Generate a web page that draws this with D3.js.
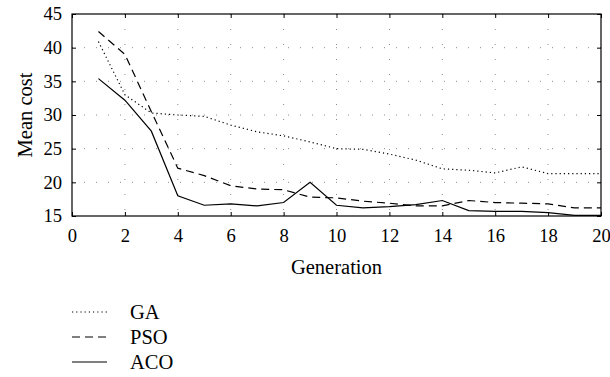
<!DOCTYPE html>
<html>
<head>
<meta charset="utf-8">
<script src="https://cdn.jsdelivr.net/npm/d3@7"></script>
<style>
  body { margin: 0; background: #fff; }
  text { font-family: "Liberation Serif", serif; fill: #000; }
</style>
</head>
<body>
<script>
// Data
let generations = [1, 2, 3, 4, 5, 6, 7, 8, 9, 10, 11, 12, 13, 14, 15, 16, 17, 18, 19, 20];
let ga  = [40.9, 33.0, 30.3, 30.0, 29.8, 28.5, 27.5, 26.9, 26.0, 25.0, 24.9, 24.2, 23.3, 22.0, 21.8, 21.4, 22.3, 21.3, 21.3, 21.3];
let pso = [42.4, 39.0, 30.5, 22.1, 21.0, 19.5, 19.0, 18.9, 17.8, 17.7, 17.2, 16.9, 16.5, 16.5, 17.3, 17.0, 16.9, 16.8, 16.2, 16.2];
let aco = [35.4, 32.2, 27.6, 18.0, 16.6, 16.8, 16.5, 17.0, 20.0, 16.6, 16.2, 16.4, 16.7, 17.3, 15.8, 15.7, 15.7, 15.5, 15.1, 15.1];
let series_names = ["GA", "PSO", "ACO"];
let x_ticks = [0, 2, 4, 6, 8, 10, 12, 14, 16, 18, 20];
let y_ticks = [15, 20, 25, 30, 35, 40, 45];

let width = 610;
let height = 377;

let svg = d3.select("body")
            .append("svg")
            .attr("width", width)
            .attr("height", height);

let plot_left = 72, plot_right = 601, plot_top = 14, plot_bottom = 216;

let x = d3.scaleLinear().domain([0, 20]).range([plot_left, plot_right]);
let y = d3.scaleLinear().domain([15, 45]).range([plot_bottom, plot_top]);

let font_size = 20.5;
let tick_font_size = 18.6;
let grid_color = "#8a8a8a";

// Grid
svg.append("g")
    .selectAll("line")
    .data(y_ticks.slice(1, -1))
    .enter().append("line")
    .attr("x1", plot_left).attr("x2", plot_right)
    .attr("y1", d => y(d)).attr("y2", d => y(d))
    .attr("stroke", grid_color)
    .attr("stroke-width", 1)
    .attr("stroke-dasharray", "1,11");

svg.append("g")
    .selectAll("line")
    .data(x_ticks.slice(1, -1))
    .enter().append("line")
    .attr("x1", d => x(d)).attr("x2", d => x(d))
    .attr("y1", plot_top).attr("y2", plot_bottom)
    .attr("stroke", grid_color)
    .attr("stroke-width", 1)
    .attr("stroke-dasharray", "1,14");

// Axes (ticks point inward, on all sides)
let xAxis = svg.append("g")
    .attr("transform", "translate(0," + plot_bottom + ")")
    .call(d3.axisBottom(x).tickValues(x_ticks).tickSizeInner(-4).tickSizeOuter(0).tickPadding(13));
let xTop = svg.append("g")
    .attr("transform", "translate(0," + plot_top + ")")
    .call(d3.axisTop(x).tickValues(x_ticks).tickSizeInner(-4).tickSizeOuter(0).tickFormat(""));
let yAxis = svg.append("g")
    .attr("transform", "translate(" + plot_left + ",0)")
    .call(d3.axisLeft(y).tickValues(y_ticks).tickSizeInner(-4).tickSizeOuter(0).tickPadding(10));
let yRight = svg.append("g")
    .attr("transform", "translate(" + plot_right + ",0)")
    .call(d3.axisRight(y).tickValues(y_ticks).tickSizeInner(-4).tickSizeOuter(0).tickFormat(""));

[xAxis, xTop, yAxis, yRight].forEach(g => {
    g.select(".domain").remove();
    g.selectAll("line").attr("stroke", "#000");
    g.selectAll("text")
        .attr("font-family", "Liberation Serif, serif")
        .attr("font-size", tick_font_size)
        .attr("fill", "#000");
});

// Frame
svg.append("rect")
    .attr("x", plot_left).attr("y", plot_top)
    .attr("width", plot_right - plot_left).attr("height", plot_bottom - plot_top)
    .attr("fill", "none")
    .attr("stroke", "#000")
    .attr("stroke-width", 1.2);

// Series lines
let styles = {
    GA:  { dash: "1.2,3", values: ga },
    PSO: { dash: "8,5",   values: pso },
    ACO: { dash: null,    values: aco }
};

let line = d3.line()
    .x((d, i) => x(generations[i]))
    .y(d => y(d));

series_names.forEach(name => {
    svg.append("path")
        .datum(styles[name].values)
        .attr("d", line)
        .attr("fill", "none")
        .attr("stroke", "#000")
        .attr("stroke-width", 1.2)
        .attr("stroke-dasharray", styles[name].dash);
});

// Axis titles
svg.append("text")
    .attr("x", (plot_left + plot_right) / 2)
    .attr("y", 274)
    .attr("text-anchor", "middle")
    .attr("font-size", font_size)
    .text("Generation");

svg.append("text")
    .attr("transform", "translate(32," + ((plot_top + plot_bottom) / 2) + ") rotate(-90)")
    .attr("text-anchor", "middle")
    .attr("font-size", font_size)
    .text("Mean cost");

// Legend
let legend_y = [312, 337, 362];
series_names.forEach((name, i) => {
    svg.append("line")
        .attr("x1", 72).attr("x2", 107)
        .attr("y1", legend_y[i]).attr("y2", legend_y[i])
        .attr("stroke", "#000")
        .attr("stroke-width", 1.2)
        .attr("stroke-dasharray", styles[name].dash);
    svg.append("text")
        .attr("x", 130)
        .attr("y", legend_y[i])
        .attr("dy", "0.35em")
        .attr("font-size", font_size)
        .text(name);
});
</script>
</body>
</html>
